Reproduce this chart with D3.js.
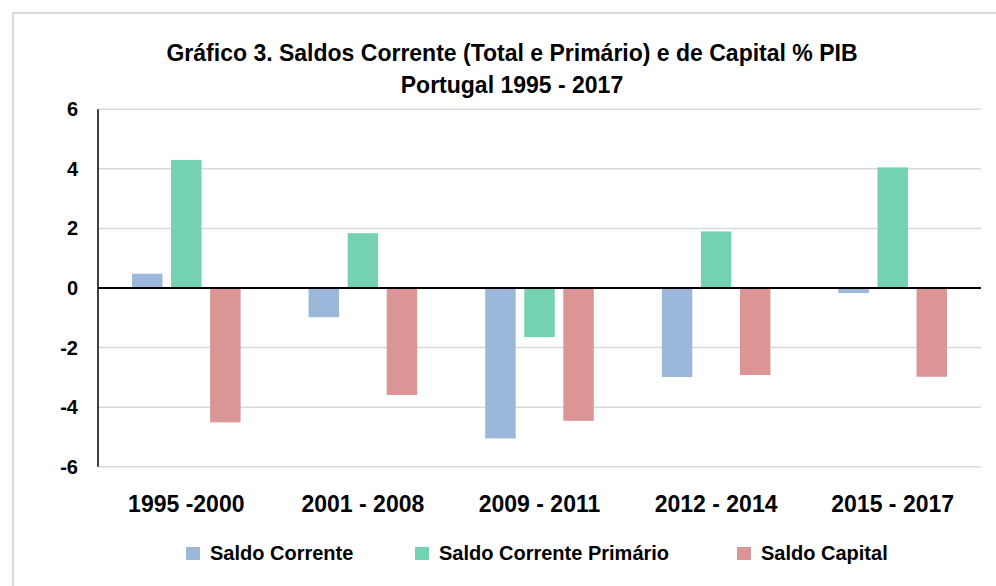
<!DOCTYPE html>
<meta charset="utf-8">
<style>
body { margin: 0; background: #fff; }
text { font-family: "Liberation Sans", Arial, sans-serif; font-weight: bold; fill: #000; }
</style>
<script src="https://d3js.org/d3.v7.min.js"></script>
<div id="my_dataviz"></div>
<script>
// data
var categories = ["1995 -2000", "2001 - 2008", "2009 - 2011", "2012 - 2014", "2015 - 2017"];
var seriesNames = ["Saldo Corrente", "Saldo Corrente Primário", "Saldo Capital"];
var saldoCorrente = [0.48, -0.98, -5.05, -2.99, -0.17];
var saldoPrimario = [4.30, 1.84, -1.65, 1.90, 4.05];
var saldoCapital = [-4.51, -3.59, -4.46, -2.92, -2.98];
var yTicks = [-6, -4, -2, 0, 2, 4, 6];
var colors = ["#9bb7da", "#74d2b0", "#da9594"];

var allSeries = [saldoCorrente, saldoPrimario, saldoCapital];

var W = 996, H = 586;
var svg = d3.select("#my_dataviz")
  .append("svg")
    .attr("width", W)
    .attr("height", H);

// chart border
svg.append("rect")
  .attr("x", 13).attr("y", 13)
  .attr("width", W).attr("height", H)
  .attr("fill", "none")
  .attr("stroke", "#d9d9d9")
  .attr("stroke-width", 2);

// title
svg.append("text")
  .attr("x", 512).attr("y", 61)
  .attr("text-anchor", "middle")
  .style("font-size", "23px")
  .text("Gráfico 3. Saldos Corrente (Total e Primário) e de Capital % PIB");
svg.append("text")
  .attr("x", 512).attr("y", 93)
  .attr("text-anchor", "middle")
  .style("font-size", "23px")
  .text("Portugal 1995 - 2017");

var left = 98, right = 981;

var y = d3.scaleLinear()
  .domain([-6, 6])
  .range([466.7, 109.3]);

var x0 = d3.scaleBand()
  .domain(categories)
  .range([left, right])
  .padding(0);

var outer = 34;
var x1 = d3.scaleBand()
  .domain(seriesNames)
  .range([outer, x0.bandwidth() - outer])
  .paddingInner(0.22);

// gridlines
svg.append("g")
  .selectAll("line")
  .data(yTicks.filter(function(d){ return d !== 0; }))
  .enter()
  .append("line")
    .attr("x1", left).attr("x2", right)
    .attr("y1", function(d){ return y(d); })
    .attr("y2", function(d){ return y(d); })
    .attr("stroke", "#d9d9d9")
    .attr("stroke-width", 1.5);

// y tick labels
svg.append("g")
  .selectAll("text")
  .data(yTicks)
  .enter()
  .append("text")
    .attr("x", 78)
    .attr("y", function(d){ return y(d) + 7; })
    .attr("text-anchor", "end")
    .style("font-size", "20px")
    .text(function(d){ return d; });

// bars
var rows = [];
categories.forEach(function(c, i) {
  seriesNames.forEach(function(s, j) {
    rows.push({cat: c, series: s, value: allSeries[j][i], color: colors[j]});
  });
});

svg.append("g")
  .selectAll("rect")
  .data(rows)
  .enter()
  .append("rect")
    .attr("x", function(d){ return x0(d.cat) + x1(d.series); })
    .attr("width", x1.bandwidth())
    .attr("y", function(d){ return y(Math.max(0, d.value)); })
    .attr("height", function(d){ return Math.abs(y(d.value) - y(0)); })
    .attr("fill", function(d){ return d.color; });

// zero line and y axis
svg.append("line")
  .attr("x1", left).attr("x2", right)
  .attr("y1", y(0)).attr("y2", y(0))
  .attr("stroke", "#000")
  .attr("stroke-width", 2);
svg.append("line")
  .attr("x1", left).attr("x2", left)
  .attr("y1", y(6)).attr("y2", y(-6))
  .attr("stroke", "#000")
  .attr("stroke-width", 1.5);

// category labels
svg.append("g")
  .selectAll("text")
  .data(categories)
  .enter()
  .append("text")
    .attr("x", function(d){ return x0(d) + x0.bandwidth() / 2; })
    .attr("y", 512)
    .attr("text-anchor", "middle")
    .style("font-size", "23px")
    .text(function(d){ return d; });

// legend
var legendX = [186, 415, 737];
var legend = svg.append("g")
  .selectAll("g")
  .data(seriesNames)
  .enter()
  .append("g")
    .attr("transform", function(d, i){ return "translate(" + legendX[i] + ",547)"; });
legend.append("rect")
  .attr("width", 14).attr("height", 13)
  .attr("fill", function(d, i){ return colors[i]; });
legend.append("text")
  .attr("x", 24).attr("y", 13)
  .style("font-size", "20px")
  .text(function(d){ return d; });
</script>
